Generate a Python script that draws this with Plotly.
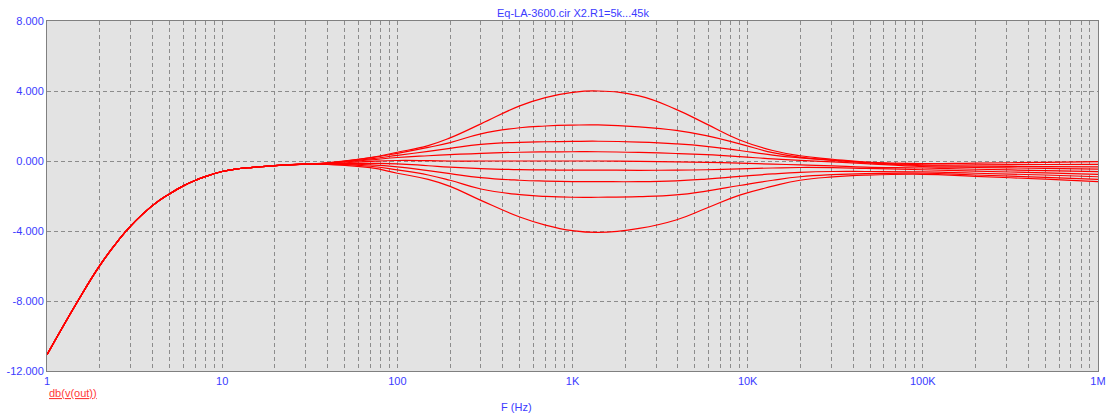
import plotly.graph_objects as go

# Common low-frequency part (all curves overlap)
F_LOW = [1, 1.5, 2, 2.5, 3, 4, 5, 6, 7, 8, 10, 12, 15, 20, 30]
DB_LOW = [-11.07, -8.0, -5.98, -4.66, -3.72, -2.55, -1.88, -1.42, -1.11, -0.89, -0.6, -0.46, -0.36, -0.26, -0.18]

# Frequencies where the stepped curves differ
F_MID = [40, 70, 100, 150, 200, 300, 500, 700, 1000, 1400, 2400, 3900, 5800, 9000,
         13900, 19900, 30600, 47000, 100000, 200000, 500000, 1000000]

R1_LABELS = ["5k", "10k", "15k", "20k", "25k", "30k", "35k", "40k", "45k"]

DB_R1_5K = [-0.1, 0.2, 0.5, 0.88, 1.32, 2.12, 3.15, 3.62, 3.92, 4.0, 3.72, 2.95, 2.12, 1.2, 0.6, 0.3, 0.1, -0.06, -0.15, -0.12, -0.08, -0.04]
DB_R1_10K = [-0.11, 0.18, 0.44, 0.78, 1.05, 1.55, 1.9, 2.0, 2.05, 2.06, 1.95, 1.75, 1.45, 0.98, 0.48, 0.22, 0.05, -0.08, -0.22, -0.22, -0.2, -0.19]
DB_R1_15K = [-0.12, 0.12, 0.32, 0.55, 0.72, 0.95, 1.07, 1.1, 1.12, 1.13, 1.08, 0.98, 0.84, 0.6, 0.34, 0.18, 0.04, -0.1, -0.27, -0.3, -0.32, -0.33]
DB_R1_20K = [-0.13, 0.06, 0.2, 0.3, 0.36, 0.44, 0.5, 0.52, 0.53, 0.53, 0.49, 0.43, 0.36, 0.25, 0.12, 0.04, -0.05, -0.15, -0.32, -0.37, -0.42, -0.46]
DB_R1_25K = [-0.15, -0.02, 0.03, 0.02, 0.0, 0.0, 0.0, 0.0, 0.0, 0.0, -0.02, -0.05, -0.08, -0.12, -0.18, -0.22, -0.28, -0.35, -0.4, -0.47, -0.55, -0.61]
DB_R1_30K = [-0.16, -0.14, -0.16, -0.27, -0.35, -0.43, -0.49, -0.51, -0.52, -0.52, -0.53, -0.52, -0.5, -0.45, -0.4, -0.37, -0.38, -0.42, -0.5, -0.58, -0.68, -0.76]
DB_R1_35K = [-0.17, -0.22, -0.33, -0.55, -0.72, -0.95, -1.1, -1.15, -1.18, -1.18, -1.18, -1.13, -1.03, -0.88, -0.74, -0.65, -0.6, -0.6, -0.62, -0.7, -0.8, -0.9]
DB_R1_40K = [-0.18, -0.3, -0.51, -0.8, -1.1, -1.6, -1.92, -2.02, -2.07, -2.07, -2.04, -1.94, -1.72, -1.4, -1.1, -0.9, -0.78, -0.72, -0.7, -0.8, -0.93, -1.05]
DB_R1_45K = [-0.2, -0.38, -0.7, -1.05, -1.45, -2.25, -3.2, -3.66, -3.98, -4.08, -3.85, -3.37, -2.7, -1.95, -1.44, -1.1, -0.91, -0.81, -0.76, -0.88, -1.04, -1.18]

SERIES = [DB_R1_5K, DB_R1_10K, DB_R1_15K, DB_R1_20K, DB_R1_25K,
          DB_R1_30K, DB_R1_35K, DB_R1_40K, DB_R1_45K]

X_TICK_DECADES = [1, 10, 100, 1000, 10000, 100000, 1000000]
X_TICK_LABELS = ["1", "10", "100", "1K", "10K", "100K", "1M"]
Y_TICKS = [-12, -8, -4, 0, 4, 8]
Y_TICK_LABELS = ["-12.000", "-8.000", "-4.000", "0.000", "4.000", "8.000"]

TITLE = "Eq-LA-3600.cir X2.R1=5k...45k"
X_TITLE = "F (Hz)"
Y_TITLE = "db(v(out))"

BLUE = "#3b3bff"
RED = "#ff0000"
GRID = "#8c8c8c"
FONT = "Liberation Sans, Arial, sans-serif"

fig = go.Figure()
for name, vals in zip(R1_LABELS, SERIES):
    fig.add_trace(go.Scatter(
        x=F_LOW + F_MID, y=DB_LOW + vals, mode="lines", name="R1=" + name,
        line=dict(color=RED, width=1.2, shape="spline", smoothing=1.3),
        showlegend=False, hoverinfo="skip"))

# tick positions: every 1..9 in each decade, labels only at decades
tickvals, ticktext = [], []
for d, lab in zip(X_TICK_DECADES, X_TICK_LABELS):
    if d == 1000000:
        tickvals.append(d); ticktext.append(lab)
        break
    for m in range(1, 10):
        tickvals.append(d * m)
        ticktext.append(lab if m == 1 else "")

fig.update_layout(
    width=1109, height=414,
    margin=dict(l=47, r=11, t=21, b=43, autoexpand=False),
    paper_bgcolor="white", plot_bgcolor="#e3e3e3",
    font=dict(family=FONT, size=11, color=BLUE),
    xaxis=dict(type="log", range=[0, 6], tickvals=tickvals, ticktext=ticktext,
               showgrid=True, gridcolor=GRID, gridwidth=1, griddash="4px,3px",
               showline=True, linecolor="#808080", linewidth=1, mirror=True,
               zeroline=False, ticks="", automargin=False,
               tickfont=dict(color=BLUE, size=11)),
    yaxis=dict(range=[-12, 8], tickvals=Y_TICKS, ticktext=Y_TICK_LABELS,
               showgrid=True, gridcolor=GRID, gridwidth=1, griddash="4px,3px",
               showline=True, linecolor="#808080", linewidth=1, mirror=True,
               zeroline=False, ticks="", automargin=False,
               tickfont=dict(color=BLUE, size=11)),
    annotations=[
        dict(text=TITLE, xref="paper", yref="paper", x=0.5, y=1, xanchor="center",
             yanchor="bottom", yshift=0, showarrow=False, font=dict(color=BLUE, size=11)),
        dict(text=X_TITLE, xref="paper", yref="paper", x=0.447, y=0, xanchor="center",
             yanchor="middle", yshift=-36, showarrow=False, font=dict(color=BLUE, size=11)),
        dict(text="<u>" + Y_TITLE + "</u>", xref="paper", yref="paper", x=0, y=0,
             xanchor="left", yanchor="middle", yshift=-22, showarrow=False,
             font=dict(color="#ff3a3a", size=11)),
    ],
)

fig.write_html("out.html")
